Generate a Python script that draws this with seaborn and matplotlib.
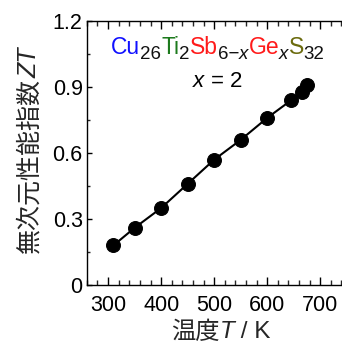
import matplotlib
matplotlib.use("Agg")
import matplotlib.pyplot as plt
import seaborn as sns
import pandas as pd
from matplotlib.ticker import MultipleLocator

# ---- data ----
temperature_K = [310, 350, 400, 450, 500, 550, 600, 645, 665, 675]
zt_values = [0.18, 0.26, 0.35, 0.46, 0.57, 0.66, 0.76, 0.84, 0.88, 0.91]
x_ticks = [300, 400, 500, 600, 700]
y_ticks = [0, 0.3, 0.6, 0.9, 1.2]
y_tick_labels = ["0", "0.3", "0.6", "0.9", "1.2"]
x_label_pieces = [("温度", "normal"), ("T", "italic"), (" / K", "normal")]
y_label_pieces = [("無次元性能指数", "normal"), ("ZT", "italic")]
formula_pieces = [
    ("Cu", "#1010ff", False, "normal"),
    ("26", "#111111", True, "normal"),
    ("Ti", "#1d7a1d", False, "normal"),
    ("2", "#111111", True, "normal"),
    ("Sb", "#ff1a1a", False, "normal"),
    ("6\u2212", "#111111", True, "normal"),
    ("x", "#111111", True, "italic"),
    ("Ge", "#ff1a1a", False, "normal"),
    ("x", "#111111", True, "italic"),
    ("S", "#6b6b0e", False, "normal"),
    ("32", "#111111", True, "normal"),
]
composition_label = "$x$ = 2"

df = pd.DataFrame({"T": temperature_K, "ZT": zt_values})

sns.set_theme(style="ticks")
FAM = ["Liberation Sans", "Noto Sans CJK JP", "DejaVu Sans"]
plt.rcParams["font.family"] = FAM
plt.rcParams["mathtext.fontset"] = "custom"
plt.rcParams["mathtext.rm"] = "Liberation Sans"
plt.rcParams["mathtext.it"] = "Liberation Sans:italic"
plt.rcParams["mathtext.bf"] = "Liberation Sans:bold"

fig = plt.figure(figsize=(3.42, 3.44), dpi=100)
ax = fig.add_axes([0.254, 0.1715, 0.76, 0.767])

sns.lineplot(data=df, x="T", y="ZT", ax=ax, color="black", linewidth=1.5,
             marker="o", markersize=10, markeredgecolor="black",
             markerfacecolor="black")

ax.set_xlim(260, 750)
ax.set_ylim(0, 1.2)
ax.set_xticks(x_ticks)
ax.set_yticks(y_ticks)
ax.set_yticklabels(y_tick_labels)
ax.xaxis.set_minor_locator(MultipleLocator(20))
ax.yaxis.set_minor_locator(MultipleLocator(0.15))
ax.tick_params(axis="x", which="major", direction="in", length=6, width=1,
               top=True, labelsize=15.5, pad=7, colors="black")
ax.tick_params(axis="x", which="minor", direction="in", length=3.5, width=1,
               top=True)
ax.tick_params(axis="y", which="major", direction="in", length=3.5, width=1,
               labelsize=15.5, pad=3, colors="black")
ax.tick_params(axis="y", which="minor", direction="in", length=2.5, width=1)
for s in ax.spines.values():
    s.set_linewidth(1.0)
    s.set_color("black")
ax.spines["right"].set_visible(False)
ax.set_xlabel("")
ax.set_ylabel("")

LBL_FS = 18

# x label: pieces chained on a common baseline, then centred
xl_base = 0.016
texts = []
prev = None
for txt, style in x_label_pieces:
    if prev is None:
        prev = fig.text(0.0, xl_base, txt, fontsize=17.5, style=style,
                        ha="left", va="baseline", family=FAM)
    else:
        prev = ax.annotate(txt, xy=(1, xl_base), xycoords=(prev, fig.transFigure),
                           fontsize=17.5, style=style, ha="left",
                           va="baseline", family=FAM, annotation_clip=False)
    texts.append(prev)

# y label: rotated pieces chained along the baseline
yl_x = 0.108
prev = None
for txt, style in y_label_pieces:
    if prev is None:
        prev = fig.text(yl_x, 0.2645, txt, fontsize=LBL_FS, style=style,
                        rotation=90, rotation_mode="anchor",
                        ha="left", va="baseline", family=FAM)
    else:
        prev = ax.annotate(txt, xy=(yl_x, 1), xycoords=(fig.transFigure, prev),
                           fontsize=LBL_FS, style=style, rotation=90,
                           rotation_mode="anchor", ha="left", va="baseline",
                           family=FAM, annotation_clip=False)

# formula, chained piece by piece; subscripts lowered
y0 = 0.842
sub_drop = 5.0 / 344
prev = None
for txt, col, is_sub, style in formula_pieces:
    fs = 13.5 if is_sub else 16.5
    yy = y0 - sub_drop if is_sub else y0
    if prev is None:
        prev = fig.text(0.3246, yy, txt, color=col, fontsize=fs, style=style,
                        ha="left", va="baseline")
    else:
        prev = ax.annotate(txt, xy=(1, yy), xycoords=(prev, fig.transFigure),
                           color=col, fontsize=fs, style=style, ha="left",
                           va="baseline", annotation_clip=False)

fig.text(0.634, 0.747, composition_label, fontsize=16, ha="center",
         va="baseline", color="black")

# centre the x label under the axes
fig.canvas.draw()
r = fig.canvas.get_renderer()
x_left = texts[0].get_window_extent(r).x0
x_right = texts[-1].get_window_extent(r).x1
target_c = 221.0
shift = target_c - (x_left + x_right) / 2
texts[0].set_x(texts[0].get_position()[0] + shift / fig.bbox.width)

fig.savefig("out.png", dpi=100)
